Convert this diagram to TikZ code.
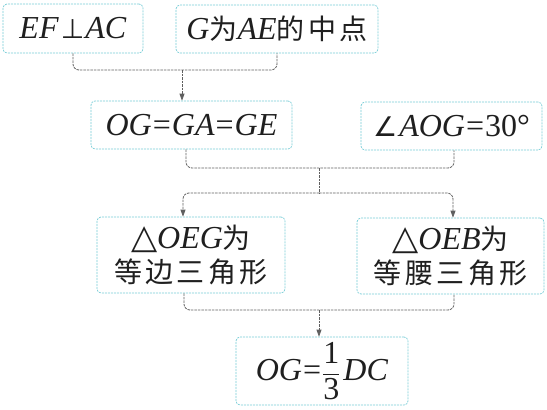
\documentclass[tikz,border=0pt]{standalone}
\usepackage{amsmath}
\usepackage{fontspec}
\setmainfont{Liberation Serif}
\newfontfamily\cjk{Noto Sans CJK SC}
\newfontfamily\sym{DejaVu Sans}
\usetikzlibrary{arrows.meta}
\definecolor{boxc}{RGB}{120,205,215}
\definecolor{linec}{RGB}{95,95,95}
\newcommand{\mi}[1]{\textit{#1}}
\newcommand{\cj}[1]{{\cjk\fontsize{28}{34}\selectfont #1}}
\newcommand{\sy}[1]{{\sym\fontsize{27}{34}\selectfont #1}}
\newcommand{\tri}{{\sym\fontsize{34}{34}\selectfont △}}
\newcommand{\gp}{\hspace{3.5pt}}
\newcommand{\eq}{\hspace{1pt}=\hspace{1pt}}
\tikzset{
  box/.style={draw=boxc, dash pattern=on 2pt off 1pt, line width=0.7pt, rounded corners=4pt,
    fill=white, inner sep=0pt, font=\fontsize{32}{34}\selectfont, align=center, text=black!88},
  conn/.style={draw=linec, dash pattern=on 2.5pt off 1pt, line width=0.8pt, rounded corners=6pt},
  arr/.style={-{Triangle[length=7pt,width=5pt]}}
}
\begin{document}
\begin{tikzpicture}[x=1pt,y=1pt]
\useasboundingbox (0,0) rectangle (547,-410);
\node[box, minimum width=140, minimum height=49] (b1) at (73,-28.5) {\mi{EF}\hspace{2pt}\sy{⊥}\hspace{1pt}\mi{AC}};
\node[box, minimum width=202, minimum height=48] (b2) at (277,-29) {\mi{G}\cj{为}\mi{AE}\cj{的\gp 中\gp 点}};
\node[box, minimum width=201, minimum height=48] (b3) at (191.5,-125) {\mi{OG}\eq\mi{GA}\eq\mi{GE}};
\node[box, minimum width=181, minimum height=48] (b4) at (451.5,-126) {\sy{∠}\hspace{2pt}\mi{AOG}\eq 30°};
\node[box, minimum width=188, minimum height=76] (b5) at (191,-255) {\tri\mi{OEG}\cj{为}\\\cj{等\gp 边\gp 三\gp 角\gp 形}};
\node[box, minimum width=187, minimum height=76] (b6) at (450.5,-256) {\tri\mi{OEB}\cj{为}\\\cj{等\gp 腰\gp 三\gp 角\gp 形}};
\node[box, minimum width=172, minimum height=68] (b7) at (322,-371) {\mi{OG}\eq$\dfrac{\text{1}}{\text{3}}$\hspace{3pt}\mi{DC}};
\coordinate (j1) at (182,-70);
\coordinate (j2) at (319,-168);
\coordinate (j3) at (319,-193);
\coordinate (j4) at (319,-310);
\draw[conn] (b1.south) |- (j1) -| (b2.south);
\draw[conn,arr] (j1) -- (j1 |- b3.north);
\draw[conn] ([xshift=-5.5pt]b3.south) |- (j2) -| ([xshift=2.5pt]b4.south);
\draw[conn] (j2) -- (j3);
\draw[conn,arr] (j3) -| ([xshift=-8pt]b5.north);
\draw[conn,arr] (j3) -| ([xshift=2.5pt]b6.north);
\draw[conn] ([xshift=-7pt]b5.south) |- (j4) -| ([xshift=3.5pt]b6.south);
\draw[conn,arr] (j4) -- (j4 |- b7.north);
\end{tikzpicture}
\end{document}
